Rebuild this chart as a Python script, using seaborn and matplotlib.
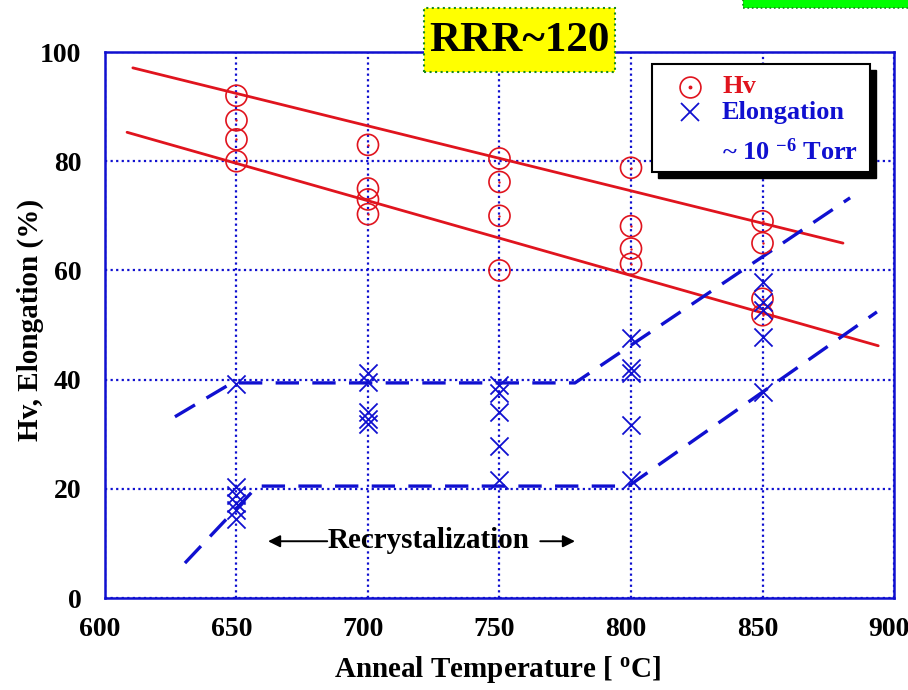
import matplotlib
matplotlib.use("Agg")
import matplotlib.pyplot as plt
import matplotlib.patches as mpatches
import matplotlib.transforms as mtransforms
from matplotlib.lines import Line2D
import seaborn as sns
import pandas as pd

# Hv data (anneal temperature, hardness)
hv_temp = [650, 650, 650, 650, 700, 700, 700, 700, 750, 750, 750, 750,
           800, 800, 800, 800, 850, 850, 850, 850]
hv_vals = [92, 87.5, 84, 80, 83, 75, 73, 70.3, 80.5, 76.2, 70, 60,
           78.8, 68.1, 64, 61.2, 69, 65, 54.8, 51.8]

# Elongation data
el_temp = [650, 650, 650, 650, 650, 650, 700, 700, 700, 700, 700,
           750, 750, 750, 750, 750, 800, 800, 800, 800, 800,
           850, 850, 850, 850, 850]
el_vals = [39.2, 20.3, 18.9, 17.4, 16.1, 14.5, 41.2, 39.6, 34, 32.8, 31.8,
           39, 37.5, 34, 27.8, 21.6, 47.6, 42.1, 41.2, 31.7, 21.6,
           57.9, 54.2, 52.7, 47.8, 37.7]

# trend lines (Hv) - endpoints
hv_upper_x = [610.6, 880.6]
hv_upper_y = [97.1, 65.0]
hv_lower_x = [608.4, 894.0]
hv_lower_y = [85.3, 46.2]

# elongation guide lines (dashed)
el_upper_x = [626.6, 648.3, 778.7, 883.3]
el_upper_y = [33.2, 39.4, 39.4, 73.3]
el_lower_x = [630.4, 658.0, 799.0, 893.5]
el_lower_y = [6.4, 20.5, 20.5, 52.4]

RED = "#e0141e"
BLUE = "#1010d0"

sns.set_style("white")
plt.rcParams["font.family"] = ["Liberation Serif", "DejaVu Serif"]
plt.rcParams["font.weight"] = "bold"
plt.rcParams["text.color"] = "black"
plt.rcParams["axes.labelcolor"] = "black"
plt.rcParams["mathtext.fontset"] = "custom"
plt.rcParams["mathtext.rm"] = "Liberation Serif:bold"
plt.rcParams["mathtext.bf"] = "Liberation Serif:bold"
plt.rcParams["mathtext.it"] = "Liberation Serif:bold"

fig = plt.figure(figsize=(9.08, 6.9), dpi=100)
ax = fig.add_axes([0.1156, 0.1333, 0.8690, 0.7913])

df_hv = pd.DataFrame({"T": hv_temp, "Hv": hv_vals})
df_el = pd.DataFrame({"T": el_temp, "El": el_vals})

# lines
sns.lineplot(x=hv_upper_x, y=hv_upper_y, ax=ax, color=RED, lw=2, sort=False, zorder=3)
sns.lineplot(x=hv_lower_x, y=hv_lower_y, ax=ax, color=RED, lw=2, sort=False, zorder=3)
ax.plot(el_upper_x, el_upper_y, color=BLUE, lw=2.4, dashes=(7, 4), zorder=3)
ax.plot(el_lower_x, el_lower_y, color=BLUE, lw=2.4, dashes=(7, 4), zorder=3)

# points
sns.scatterplot(data=df_hv, x="T", y="Hv", ax=ax, marker="o", s=230,
                facecolor="none", edgecolor=RED, linewidth=1.2, zorder=4)
sns.scatterplot(data=df_hv, x="T", y="Hv", ax=ax, marker="o", s=3,
                color=RED, edgecolor=RED, linewidth=0, zorder=4)
sns.scatterplot(data=df_el, x="T", y="El", ax=ax, marker="x", s=170,
                color=BLUE, linewidth=1.3, zorder=4)

ax.set_xlim(600, 900)
ax.set_ylim(0, 100)
ax.set_xticks(range(600, 901, 50))
ax.set_yticks(range(0, 101, 20))
ax.grid(True, color=BLUE, linestyle=(0, (1, 1.5)), linewidth=1.6)
for side in ax.spines.values():
    side.set_color(BLUE)
    side.set_linewidth(1.8)
ax.tick_params(axis="both", labelsize=20, colors="black", labelcolor="black", length=0)
ax.tick_params(axis="x", pad=14)
ax.tick_params(axis="y", pad=17)
shift = mtransforms.ScaledTranslation(-5 / 100, 0, fig.dpi_scale_trans)
for lab in ax.get_xticklabels():
    lab.set_fontweight("bold")
    lab.set_transform(lab.get_transform() + shift)
for lab in ax.get_yticklabels():
    lab.set_fontweight("bold")

ax.set_xlabel("Anneal Temperature [ $^{\\mathbf{o}}$C]", fontsize=21, fontweight="bold",
              va="center", color="black")
ax.set_ylabel("Hv, Elongation (%)", fontsize=21, fontweight="bold", va="center",
              color="black")
ax.xaxis.set_label_coords(0.498, -0.13)
ax.yaxis.set_label_coords(-0.095, 0.509)

# title box
fig.patches.append(mpatches.Rectangle((424 / 908, 1 - 72 / 690), 191 / 908, 64 / 690,
                                      transform=fig.transFigure, facecolor="#ffff00",
                                      edgecolor="#1a8a1a", linestyle=":", lw=1.5,
                                      zorder=5))
fig.text(519 / 908, 1 - 41 / 690, "RRR~120", ha="center", va="center",
         fontsize=31, fontweight="bold", color="black", zorder=6)

# green box at top right
fig.patches.append(mpatches.Rectangle((743 / 908, 1 - 8 / 690), 0.2, 0.03,
                                      transform=fig.transFigure, facecolor="#00ff00",
                                      edgecolor="#1a8a1a", linestyle=":", lw=1.2))

# recrystallization annotation
ax.text(723.0, 10.6, "Recrystalization", ha="center", va="center",
        fontsize=21, fontweight="bold", color="black", zorder=6)
ax.annotate("", xy=(662.0, 10.4), xytext=(684.5, 10.4),
            arrowprops=dict(arrowstyle="-|>", color="black", lw=1.4, mutation_scale=18,
                            shrinkA=0, shrinkB=0))
ax.annotate("", xy=(778.7, 10.4), xytext=(765.5, 10.4),
            arrowprops=dict(arrowstyle="-|>", color="black", lw=1.4, mutation_scale=18,
                            shrinkA=0, shrinkB=0))

# legend box (drawn by hand for uneven row spacing)
box_l, box_r, box_t, box_b = 0.693, 0.970, 0.978, 0.780
sx, sy = 6 / 789, 6 / 546
ax.add_patch(mpatches.Rectangle((box_l + sx, box_b - sy), box_r - box_l, box_t - box_b,
                                transform=ax.transAxes, facecolor="black",
                                edgecolor="black", zorder=7, clip_on=False))
ax.add_patch(mpatches.Rectangle((box_l, box_b), box_r - box_l, box_t - box_b,
                                transform=ax.transAxes, facecolor="white",
                                edgecolor="black", lw=1.5, zorder=8, clip_on=False))
ax.add_line(Line2D([0.7414], [0.936], transform=ax.transAxes, marker="o", ls="none",
                   markersize=15, markerfacecolor="none", markeredgecolor=RED,
                   markeredgewidth=1.2, zorder=9))
ax.add_line(Line2D([0.7414], [0.936], transform=ax.transAxes, marker="o", ls="none",
                   markersize=1.8, color=RED, zorder=9))
ax.add_line(Line2D([0.7414], [0.890], transform=ax.transAxes, marker="x", ls="none",
                   markersize=13, color=BLUE, markeredgewidth=1.3, zorder=9))
ax.text(0.782, 0.936, "Hv", transform=ax.transAxes, va="center", ha="left",
        fontsize=19, fontweight="bold", color=RED, zorder=9)
ax.text(0.782, 0.890, "Elongation", transform=ax.transAxes, va="center", ha="left",
        fontsize=19, fontweight="bold", color=BLUE, zorder=9)
ax.text(0.782, 0.817, "~ 10 $^{\\mathbf{-6}}$ Torr", transform=ax.transAxes, va="center",
        ha="left", fontsize=19, fontweight="bold", color=BLUE, zorder=9)

fig.savefig("out.png", dpi=100)
